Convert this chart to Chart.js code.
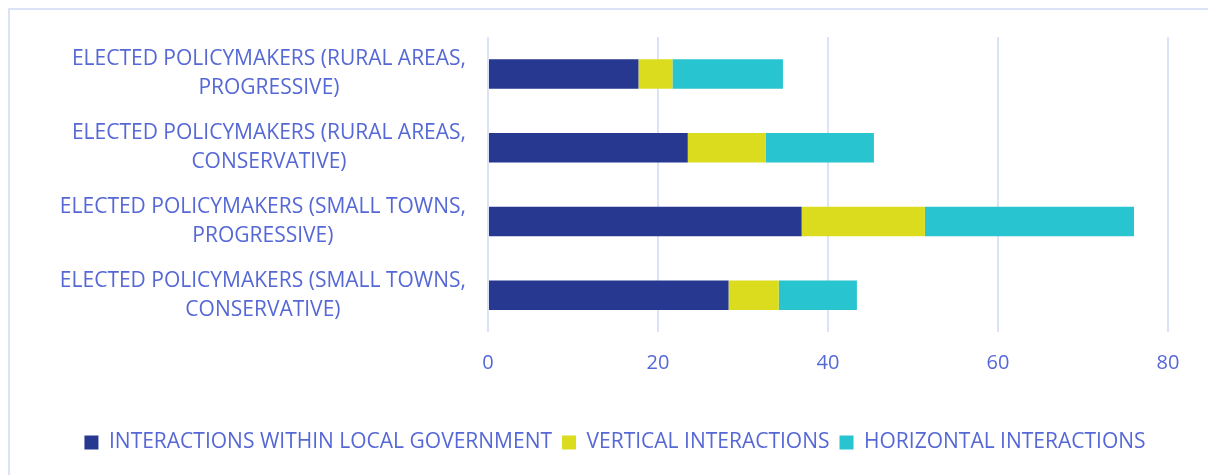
<!DOCTYPE html>
<html>
<head>
<meta charset="utf-8">
<script src="https://cdn.jsdelivr.net/npm/chart.js@4.4.1/dist/chart.umd.min.js"></script>
<style>
  html, body { margin: 0; padding: 0; background: #fff; }
  body { width: 1208px; height: 475px; position: relative; overflow: hidden; }
  #frame { position: absolute; left: 8px; top: 8px; width: 1220px; height: 500px; border: 2px solid #DDE3F6; box-sizing: border-box; }
  #wrap { position: absolute; left: 0; top: 0; width: 1208px; height: 475px; }
</style>
</head>
<body>
<div id="frame"></div>
<div id="wrap"><canvas id="c"></canvas></div>
<script>
(function(){
  const categories = [
    ['ELECTED POLICYMAKERS (RURAL AREAS,', 'PROGRESSIVE)'],
    ['ELECTED POLICYMAKERS (RURAL AREAS,', 'CONSERVATIVE)'],
    ['ELECTED POLICYMAKERS (SMALL TOWNS,', 'PROGRESSIVE)'],
    ['ELECTED POLICYMAKERS (SMALL TOWNS,', 'CONSERVATIVE)']
  ];
  const seriesNames = ['INTERACTIONS WITHIN LOCAL GOVERNMENT', 'VERTICAL INTERACTIONS', 'HORIZONTAL INTERACTIONS'];
  const withinLocal = [17.7, 23.5, 36.9, 28.3];
  const vertical = [4.0, 9.2, 14.5, 5.9];
  const horizontal = [13.0, 12.7, 24.6, 9.2];
  const xTicks = [0, 20, 40, 60, 80];

  const TEXT = '#5668D5';
  const GRID = '#DDE3F6';
  const FONT = "'Open Sans', sans-serif";
  const SIZE = 21;

  // y labels: blocks right-aligned, lines centered within each block
  const yLabelPlugin = {
    id: 'yLabels',
    afterDraw(chart){
      const ctx = chart.ctx;
      const ys = chart.scales.y;
      const right = chart.chartArea.left - 22;
      ctx.save();
      ctx.font = SIZE + 'px ' + FONT;
      ctx.fillStyle = TEXT;
      ctx.textAlign = 'center';
      ctx.textBaseline = 'middle';
      categories.forEach((lines, i) => {
        const cy = ys.getPixelForTick(i);
        const w = Math.max.apply(null, lines.map(l => ctx.measureText(l).width));
        const cx = right - w / 2;
        const lh = 29;
        const y0 = cy - (lines.length - 1) * lh / 2;
        lines.forEach((l, j) => ctx.fillText(l, cx, y0 + j * lh));
      });
      ctx.restore();
    }
  };

  new Chart(document.getElementById('c'), {
    type: 'bar',
    data: {
      labels: categories.map(c => c.join(' ')),
      datasets: [
        { label: seriesNames[0], data: withinLocal, backgroundColor: '#263890' },
        { label: seriesNames[1], data: vertical, backgroundColor: '#DCDC1F' },
        { label: seriesNames[2], data: horizontal, backgroundColor: '#28C4D0' }
      ]
    },
    options: {
      indexAxis: 'y',
      responsive: true,
      maintainAspectRatio: false,
      animation: false,
      datasets: { bar: { categoryPercentage: 1, barPercentage: 0.4, borderWidth: 0 } },
      layout: { padding: { left: 62, top: 37, right: 40, bottom: 12 } },
      scales: {
        x: {
          stacked: true,
          min: 0, max: 80,
          afterBuildTicks: s => { s.ticks = xTicks.map(v => ({ value: v })); },
          grid: { color: GRID, lineWidth: 2, drawTicks: false },
          border: { display: false },
          ticks: { color: TEXT, font: { family: FONT, size: 20 }, padding: 19 },
          afterFit: s => { s.height = 90; }
        },
        y: {
          stacked: true,
          grid: { display: false },
          border: { display: false },
          ticks: { display: false },
          afterFit: s => { s.width = 426; }
        }
      },
      plugins: {
        legend: {
          position: 'bottom',
          labels: {
            color: TEXT,
            font: { family: FONT, size: SIZE },
            boxWidth: 14,
            boxHeight: 14,
            padding: 10
          }
        },
        tooltip: { enabled: false }
      }
    },
    plugins: [yLabelPlugin]
  });
})();
</script>
</body>
</html>
